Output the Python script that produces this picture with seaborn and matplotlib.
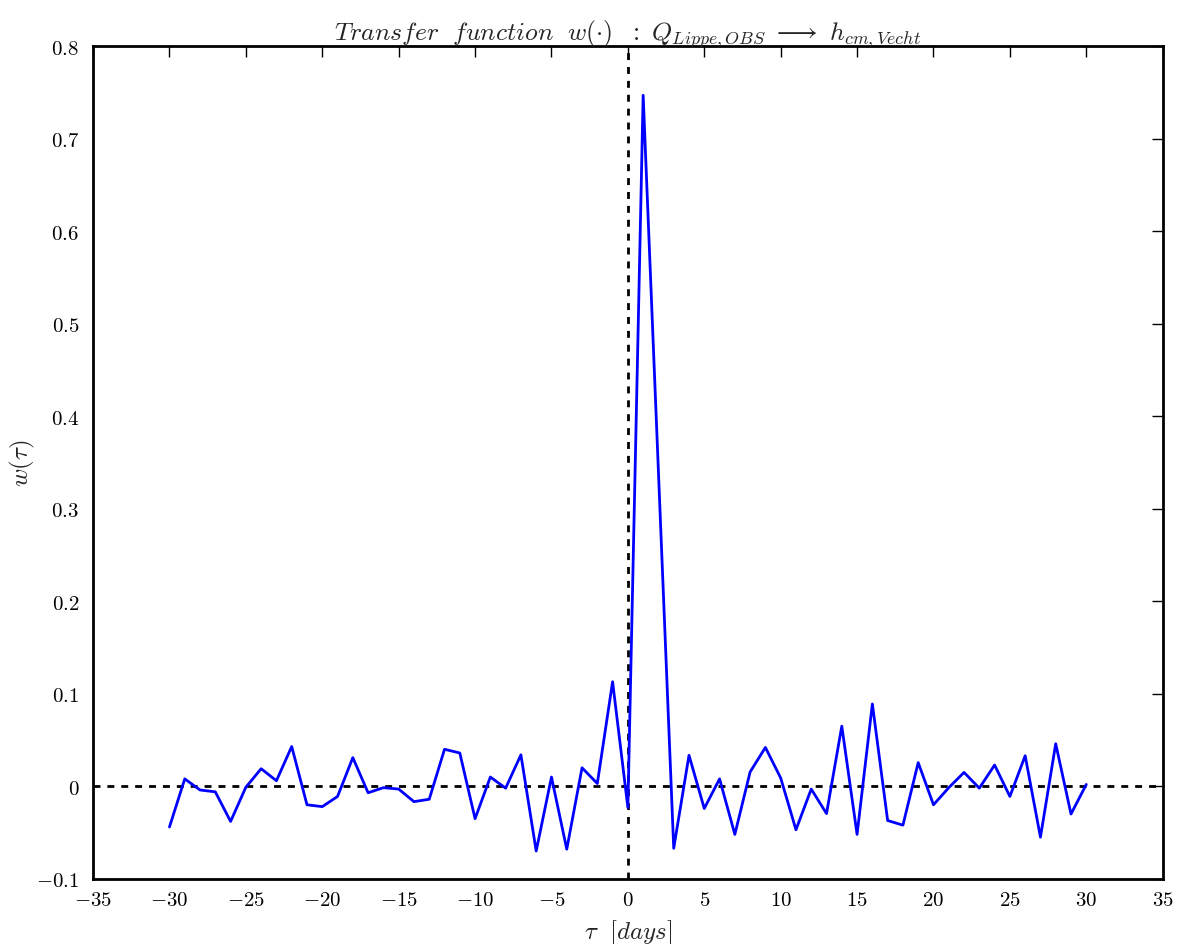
import numpy as np
import pandas as pd
import matplotlib
matplotlib.use("Agg")
import matplotlib.pyplot as plt
from matplotlib.ticker import FuncFormatter, MultipleLocator
import seaborn as sns

tau = list(range(-30, 31))
w = [-0.044, 0.008, -0.004, -0.006, -0.038, -0.001, 0.019, 0.006, 0.043, -0.020,
     -0.022, -0.011, 0.031, -0.007, -0.0015, -0.003, -0.0166, -0.014, 0.040, 0.036,
     -0.035, 0.010, -0.002, 0.034, -0.070, 0.010, -0.068, 0.020, 0.003, 0.113,
     -0.023, 0.747, 0.340, -0.067, 0.0335, -0.024, 0.008, -0.052, 0.0155, 0.042,
     0.009, -0.047, -0.003, -0.0295, 0.065, -0.052, 0.089, -0.037, -0.042, 0.0256,
     -0.020, -0.0015, 0.015, -0.002, 0.023, -0.011, 0.033, -0.055, 0.046, -0.030,
     0.002]

title = r'$Transfer\ \ function\ \ w(\cdot)\ \ :\ Q_{Lippe,OBS}\ \longrightarrow\ h_{cm,Vecht}$'
xlabel = r'$\tau\ \ [days]$'
ylabel = r'$w(\tau)$'

sns.set_style("white")
plt.rcParams.update({
    "mathtext.fontset": "cm",
    "font.family": ["DejaVu Serif"],
    "xtick.direction": "in",
    "ytick.direction": "in",
    "xtick.top": True,
    "ytick.right": True,
    "xtick.major.size": 8,
    "ytick.major.size": 8,
    "xtick.major.width": 1,
    "ytick.major.width": 1,
    "axes.linewidth": 2,
    "axes.edgecolor": "black",
})

df = pd.DataFrame({"tau": tau, "w": w})

fig = plt.figure(figsize=(11.78, 9.45), dpi=100)
ax = fig.add_axes([0.079, 0.069, 0.908, 0.881])

sns.lineplot(data=df, x="tau", y="w", ax=ax, color="blue", linewidth=2, estimator=None)
ax.axhline(0, color="black", linestyle=(0, (2.5, 2.5)), linewidth=2, zorder=1)
ax.axvline(0, color="black", linestyle=(0, (2.5, 2.5)), linewidth=2, zorder=1)

ax.set_xlim(-35, 35)
ax.set_ylim(-0.1, 0.8)
ax.xaxis.set_major_locator(MultipleLocator(5))
ax.yaxis.set_major_locator(MultipleLocator(0.1))
ax.xaxis.set_major_formatter(FuncFormatter(lambda v, p: r'$%d$' % round(v)))
ax.yaxis.set_major_formatter(FuncFormatter(lambda v, p: r'$%s$' % ('0' if abs(v) < 1e-9 else ('%.1f' % v))))
ax.tick_params(axis="y", labelsize=15, pad=10, colors="black")
ax.tick_params(axis="x", labelsize=15, pad=8, colors="black")
ax.grid(False)

ax.set_title(title, fontsize=18.5, pad=5)
ax.set_xlabel(xlabel, fontsize=18, labelpad=6)
ax.set_ylabel(ylabel, fontsize=18)
ax.yaxis.set_label_coords(-0.052, 0.5)

fig.savefig("out.png", dpi=100)
